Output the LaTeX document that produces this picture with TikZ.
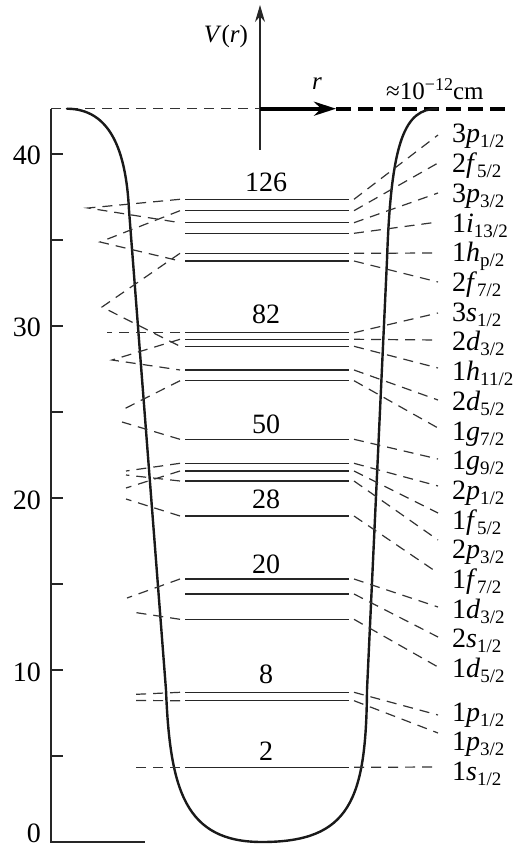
\documentclass[tikz,border=0pt]{standalone}
\usepackage{fontspec}
\setmainfont{Liberation Serif}
\usetikzlibrary{arrows.meta}
\newcommand\sbs[1]{\raisebox{-5pt}{\fontsize{19}{19}\selectfont #1}}
\newcommand\mklev[5]{%
  \coordinate (#1l) at (185,#2);
  \coordinate (#1r) at (349,#2);
  \draw[lvl] (#1l) -- (#1r);
  \coordinate (#1e) at (438,#3);
  \node[lab,anchor=base west] (#1t) at (452,#4) {#5};
  \draw[dsh] ([xshift=5pt]#1r) -- (#1e);
}
\begin{document}
\begin{tikzpicture}[x=1pt,y=-1pt,
  lvl/.style={line width=1.1pt, black!85},
  dsh/.style={line width=1.2pt, black!80, dash pattern=on 10pt off 7pt},
  well/.style={line width=2.4pt, black!90, line join=round, line cap=round},
  axis/.style={line width=1.1pt, black!85},
  lab/.style={inner sep=0pt, font=\fontsize{28}{30}\selectfont},
  num/.style={inner sep=0pt, font=\fontsize{28}{30}\selectfont},
  top/.style={inner sep=0pt, font=\fontsize{25}{28}\selectfont},
]
\useasboundingbox (0,0) rectangle (517,850);

% axes
\coordinate (axtop) at (51,108.7);
\coordinate (ax0) at (51,842);
\coordinate (axr) at (145,842);
\coordinate (O) at (260,108.7);
\coordinate (vtop) at (260,5);
\coordinate (vbot) at (260,150);
\coordinate (rtip) at (336,108.7);
\coordinate (rend) at (505,108.7);
\draw[axis] (axtop) -- (ax0) -- (axr);
\foreach \k in {1,...,8} \draw[axis] (51,842-86*\k) -- (63,842-86*\k);
\draw[dsh] (axtop) -- (O);
\draw[axis,-{Stealth[length=17pt,width=10pt]}] (vbot) -- (vtop);
\draw[line width=3.8pt,-{Stealth[length=22pt,width=14pt]}] (O) -- (rtip);
\draw[line width=3.8pt, dash pattern=on 15pt off 7pt] (rtip) -- (rend);

\node[top,anchor=base] (vlab) at (226,43) {\textit{V}(\textit{r})};
\node[top,anchor=base] (rlab) at (317,90) {\textit{r}};
\node[top,anchor=base west] (scale) at (386,100) {≈10\raisebox{9pt}{\fontsize{18}{18}\selectfont −12}cm};

% axis numbers
\node[num,anchor=base east] (n40) at (41,165) {40};
\node[num,anchor=base east] (n30) at (41,336) {30};
\node[num,anchor=base east] (n20) at (41,509) {20};
\node[num,anchor=base east] (n10) at (41,681) {10};
\node[num,anchor=base east] (n0) at (41,842) {0};

% well
\draw[well] (67,108.7) .. controls (110,109) and (126,150) .. (129,210)
  -- (166,690) .. controls (170,790) and (185,842) .. (262,842)
  .. controls (350,842) and (366,800) .. (367,690)
  -- (387,260) .. controls (391,140) and (405,109) .. (437,108.7);

% levels
\mklev{a}{199.3}{135}{143}{3\textit{p}\sbs{1/2}}
\mklev{b}{210.7}{163}{172.7}{2\textit{f}\sbs{5/2}}
\mklev{c}{222.7}{193}{202.4}{3\textit{p}\sbs{3/2}}
\mklev{d}{233.3}{222}{232.1}{1\textit{i}\sbs{13/2}}
\mklev{e}{253.3}{253}{261.8}{1\textit{h}\sbs{p/2}}
\mklev{f}{261}{282}{291.5}{2\textit{f}\sbs{7/2}}
\mklev{g}{332.7}{313}{321.2}{3\textit{s}\sbs{1/2}}
\mklev{h}{339.3}{340}{350.9}{2\textit{d}\sbs{3/2}}
\mklev{i}{346.3}{368}{380.6}{1\textit{h}\sbs{11/2}}
\mklev{j}{370}{400}{410.3}{2\textit{d}\sbs{5/2}}
\mklev{k}{380.7}{428}{440}{1\textit{g}\sbs{7/2}}
\mklev{l}{439.3}{459}{469.7}{1\textit{g}\sbs{9/2}}
\mklev{m}{463.3}{486}{499.4}{2\textit{p}\sbs{1/2}}
\mklev{n}{471}{513}{529.1}{1\textit{f}\sbs{5/2}}
\mklev{o}{481}{540}{558.8}{2\textit{p}\sbs{3/2}}
\mklev{p}{516}{573}{588.5}{1\textit{f}\sbs{7/2}}
\mklev{q}{579}{607}{618.2}{1\textit{d}\sbs{3/2}}
\mklev{r}{594}{637}{647.9}{2\textit{s}\sbs{1/2}}
\mklev{s}{619.3}{667}{677.6}{1\textit{d}\sbs{5/2}}
\mklev{t}{692.3}{715}{721}{1\textit{p}\sbs{1/2}}
\mklev{u}{700.7}{733}{750}{1\textit{p}\sbs{3/2}}
\mklev{v}{767.3}{767}{780}{1\textit{s}\sbs{1/2}}

% shell numbers
\node[num,anchor=base] (m126) at (266,192) {126};
\node[num,anchor=base] (m82) at (266,323) {82};
\node[num,anchor=base] (m50) at (266,433) {50};
\node[num,anchor=base] (m28) at (266,508) {28};
\node[num,anchor=base] (m20) at (266,573) {20};
\node[num,anchor=base] (m8) at (266,683) {8};
\node[num,anchor=base] (m2) at (266,760) {2};

% left (unsplit) connectors
\coordinate (v3p) at (88,208);
\coordinate (v2f) at (100,242);
\coordinate (v1h) at (102,307);
\coordinate (v3s) at (107,332.7);
\coordinate (v2d) at (112,360);
\coordinate (g1) at (122,410);
\coordinate (g2) at (122,422);
\coordinate (p1) at (126,471);
\coordinate (p2) at (126,475);
\coordinate (f1) at (126,488);
\coordinate (f2) at (126,499);
\coordinate (d1) at (127,598);
\coordinate (d2) at (132,612);
\coordinate (pp1) at (132,694.5);
\coordinate (pp2) at (132,700.5);
\coordinate (s1) at (132,767.3);
\draw[dsh] ([xshift=-5pt]al) -- (v3p) -- ([xshift=-5pt]cl);
\draw[dsh] ([xshift=-5pt]bl) -- (v2f) -- ([xshift=-5pt]fl);
\draw[dsh] ([xshift=-5pt]el) -- (v1h) -- ([xshift=-5pt]il);
\draw[dsh] ([xshift=-5pt]gl) -- (v3s);
\draw[dsh] ([xshift=-5pt]hl) -- (v2d) -- ([xshift=-5pt]jl);
\draw[dsh] ([xshift=-5pt]kl) -- (g1);
\draw[dsh] ([xshift=-5pt]ll) -- (g2);
\draw[dsh] ([xshift=-5pt]ml) -- (p1);
\draw[dsh] ([xshift=-5pt]ol) -- (p2);
\draw[dsh] ([xshift=-5pt]nl) -- (f1);
\draw[dsh] ([xshift=-5pt]pl) -- (f2);
\draw[dsh] ([xshift=-5pt]ql) -- (d1);
\draw[dsh] ([xshift=-5pt]sl) -- (d2);
\draw[dsh] ([xshift=-5pt]tl) -- (pp1);
\draw[dsh] ([xshift=-5pt]ul) -- (pp2);
\draw[dsh] ([xshift=-5pt]vl) -- (s1);
\end{tikzpicture}
\end{document}
